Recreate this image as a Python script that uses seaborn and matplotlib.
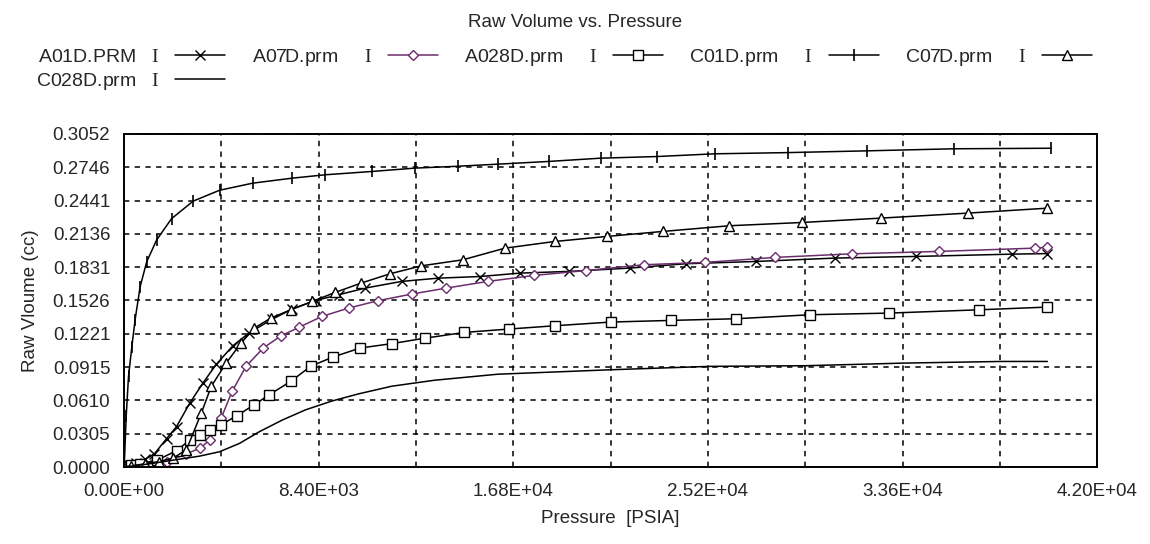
import numpy as np
import pandas as pd
import matplotlib
matplotlib.use("Agg")
import matplotlib.pyplot as plt
import seaborn as sns

# series (pressure in PSIA, volume in cc)
a01d_p = [0, 200, 500, 900, 1300, 1829, 2258, 2830, 3401, 3973, 4687, 5402, 6402, 7259, 8260, 9260,
          10403, 11975, 13547, 15365, 17069, 19222, 21823, 24245, 27295, 30704, 34202, 38328, 39853]
a01d_v = [0, 0.002, 0.004, 0.007, 0.012, 0.026, 0.037, 0.0585, 0.077, 0.094, 0.111, 0.123, 0.1355, 0.1448, 0.1525,
          0.1578, 0.1639, 0.1700, 0.1730, 0.1745, 0.1776, 0.1792, 0.1822, 0.1862, 0.1883, 0.1914, 0.1929, 0.1950, 0.1955]

a07d_p = [0, 300, 700, 1200, 1829, 2687, 3258, 3687, 4187, 4659, 5259, 6002, 6759, 7545, 8545, 9689,
          10946, 12404, 13904, 15690, 17697, 19940, 22451, 25052, 28102, 31421, 35188, 39314, 39853]
a07d_v = [0, 0.001, 0.002, 0.003, 0.0046, 0.0123, 0.017, 0.0246, 0.0449, 0.0693, 0.0922, 0.109, 0.120, 0.128, 0.138,
          0.1456, 0.1523, 0.1584, 0.1639, 0.170, 0.1755, 0.180, 0.1853, 0.1874, 0.192, 0.1953, 0.1975, 0.2005, 0.2011]

a028d_p = [0, 300, 686, 1400, 2258, 2830, 3258, 3687, 4187, 4859, 5616, 6259, 7188, 8045, 9003, 10189,
           11546, 12975, 14690, 16621, 18594, 21016, 23617, 26398, 29627, 33035, 36893, 39853]
a028d_v = [0, 0.002, 0.003, 0.006, 0.015, 0.0246, 0.029, 0.034, 0.0388, 0.047, 0.057, 0.0662, 0.0784, 0.0922, 0.1007,
           0.109, 0.113, 0.118, 0.1233, 0.1264, 0.1294, 0.1328, 0.1343, 0.1358, 0.1395, 0.141, 0.144, 0.1465]

c01d_p = [0, 86, 186, 329, 471, 686, 972, 1400, 2044, 2972, 4115, 5545, 7259, 8688, 10689, 12547,
          14404, 16119, 18325, 20567, 23000, 25500, 28640, 32050, 35816, 40030]
c01d_v = [0, 0.0464, 0.083, 0.110, 0.135, 0.165, 0.188, 0.208, 0.2275, 0.2435, 0.2535, 0.260, 0.2646, 0.2677, 0.2707,
          0.2738, 0.2755, 0.2774, 0.2799, 0.2829, 0.2844, 0.2869, 0.288, 0.2896, 0.2915, 0.292]

c07d_p = [0, 300, 900, 1500, 2100, 2687, 3330, 3758, 4401, 5044, 5616, 6330, 7188, 8117, 9117, 10231, 11475,
          12833, 14619, 16441, 18594, 20837, 23258, 26129, 29268, 32677, 36444, 39853]
c07d_v = [0, 0.001, 0.003, 0.005, 0.008, 0.0159, 0.0494, 0.0739, 0.0952, 0.1135, 0.1273, 0.1364, 0.144, 0.1517, 0.160,
          0.1685, 0.177, 0.1843, 0.1898, 0.2005, 0.2066, 0.2112, 0.2158, 0.221, 0.224, 0.228, 0.2326, 0.2371]

c028d_p = [0, 1115, 2544, 3258, 4115, 4973, 5830, 6831, 7831, 8974, 10117, 11546, 13400, 16119,
           21016, 25286, 29448, 33663, 37879, 39853]
c028d_v = [0, 0.003, 0.0077, 0.010, 0.014, 0.0216, 0.0323, 0.0431, 0.0524, 0.0605, 0.0670, 0.0740, 0.0795, 0.0850,
           0.0891, 0.0922, 0.0928, 0.0952, 0.0967, 0.0967]

series_names = ["A01D.PRM", "A07D.prm", "A028D.prm", "C01D.prm", "C07D.prm", "C028D.prm"]
legend_labels = ["A01D.PRM   $\\mathrm{I}$", "A07D.prm     $\\mathrm{I}$", "A028D.prm     $\\mathrm{I}$",
                 "C01D.prm     $\\mathrm{I}$", "C07D.prm     $\\mathrm{I}$", "C028D.prm   $\\mathrm{I}$"]
x_ticks = [0, 8400, 16800, 25200, 33600, 42000]
x_ticklabels = ["0.00E+00", "8.40E+03", "1.68E+04", "2.52E+04", "3.36E+04", "4.20E+04"]
y_ticks = [0, 0.0305, 0.0610, 0.0915, 0.1221, 0.1526, 0.1831, 0.2136, 0.2441, 0.2746, 0.3052]
y_ticklabels = ["0.0000", "0.0305", "0.0610", "0.0915", "0.1221", "0.1526",
                "0.1831", "0.2136", "0.2441", "0.2746", "0.3052"]

data = [(a01d_p, a01d_v), (a07d_p, a07d_v), (a028d_p, a028d_v),
        (c01d_p, c01d_v), (c07d_p, c07d_v), (c028d_p, c028d_v)]
purple = "#6b2d6b"
styles = [
    dict(color="black", marker="x", markersize=7, mec="black", mew=1.0),
    dict(color=purple, marker="D", markersize=5.5, mfc="white", mec=purple, mew=1.0),
    dict(color="black", marker="s", markersize=6.5, mfc="white", mec="black", mew=1.0),
    dict(color="black", marker="|", markersize=9, mec="black", mew=1.2),
    dict(color="black", marker="^", markersize=7.5, mfc="white", mec="black", mew=1.0),
    dict(color="black", marker=None),
]

sns.set_style("white")
plt.rcParams['font.family'] = ['Liberation Sans', 'DejaVu Sans']
plt.rcParams['mathtext.fontset'] = 'custom'
plt.rcParams['mathtext.rm'] = 'Liberation Serif'

fig, ax = plt.subplots(figsize=(11.5, 5.44), dpi=100)
fig.subplots_adjust(left=0.108, right=0.954, top=0.754, bottom=0.1415)

handles = []
for name, (p, v), st in zip(series_names, data, styles):
    df = pd.DataFrame({"Pressure": p, "Volume": v})
    sns.lineplot(data=df, x="Pressure", y="Volume", ax=ax, sort=False, estimator=None,
                 linewidth=1.1, label=name, **st)
    handles.append(ax.get_lines()[-1])

ax.set_xlim(0, 42000)
ax.set_ylim(0, 0.3052)
ax.set_xticks(np.arange(0, 42001, 4200), minor=True)
ax.set_xticks(x_ticks)
ax.set_xticklabels(x_ticklabels, fontsize=13.5)
ax.set_yticks(y_ticks)
ax.set_yticklabels(y_ticklabels, fontsize=13.5)
ax.grid(True, which="both", axis="x", color="black", linestyle=(0, (3.5, 3.5)), linewidth=1.1)
ax.grid(True, which="major", axis="y", color="black", linestyle=(0, (3.5, 3.5)), linewidth=1.1)
ax.tick_params(axis="x", which="both", direction="in", length=4, color="black", pad=11.5)
ax.tick_params(axis="y", length=0, pad=10)
for s in ax.spines.values():
    s.set_color("black")
    s.set_linewidth(1.4)

ax.set_xlabel("Pressure  [PSIA]", fontsize=13.5, labelpad=7)
ax.set_ylabel("Raw Vloume (cc)", fontsize=13.5, labelpad=10)
fig.suptitle("Raw Volume vs. Pressure", fontsize=13.5, y=0.975)

ax.get_legend().remove()
order = [0, 5, 1, 2, 3, 4]
fig.legend([handles[i] for i in order], [legend_labels[i] for i in order],
           loc="upper left", bbox_to_anchor=(36 / 1150, 1 - 47 / 544), ncol=5, frameon=False,
           markerfirst=False, fontsize=14, handlelength=2.57, handletextpad=0.8,
           columnspacing=1.35, labelspacing=0.27, borderaxespad=0, borderpad=0)

fig.savefig("out.png", dpi=100)
